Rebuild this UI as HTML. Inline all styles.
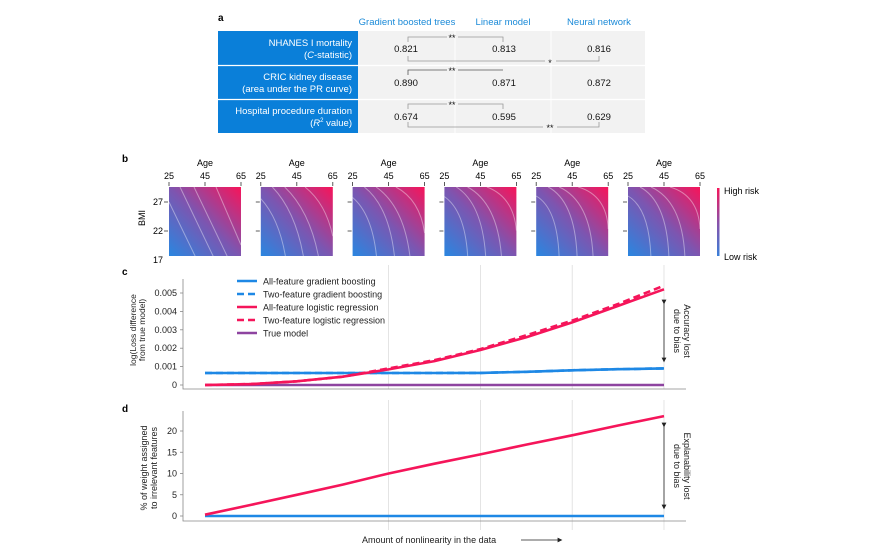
<!DOCTYPE html>
<html><head><meta charset="utf-8">
<style>
body{margin:0;background:#fff;width:875px;height:549px;overflow:hidden;font-family:"Liberation Sans",Arial,sans-serif;}
svg{position:absolute;left:0;top:0}
text{font-family:"Liberation Sans",Arial,sans-serif;}
</style></head>
<body>
<svg id="fig" width="875" height="549" viewBox="0 0 875 549">
<defs>
<linearGradient id="hm" x1="0" y1="1" x2="1" y2="0">
<stop offset="0" stop-color="#2a86e0"/><stop offset="0.5" stop-color="#7d55b0"/><stop offset="1" stop-color="#f7145a"/>
</linearGradient>
<linearGradient id="cb" x1="0" y1="1" x2="0" y2="0">
<stop offset="0" stop-color="#3a7fd8"/><stop offset="0.5" stop-color="#8a50a8"/><stop offset="1" stop-color="#f5155a"/>
</linearGradient>
<marker id="ah" markerWidth="6" markerHeight="6" refX="3" refY="3" orient="auto"><path d="M0,0 L6,3 L0,6 z" fill="#222"/></marker>
</defs>

<g>
<text x="218" y="21" font-size="10" font-weight="bold">a</text>
<text x="407" y="25" font-size="9.5" fill="#1a8ad8" text-anchor="middle">Gradient boosted trees</text>
<text x="503" y="25" font-size="9.5" fill="#1a8ad8" text-anchor="middle">Linear model</text>
<text x="599" y="25" font-size="9.5" fill="#1a8ad8" text-anchor="middle">Neural network</text>
<rect x="218" y="31" width="140" height="102" fill="#0a7fd9"/>
<rect x="358" y="31" width="287" height="102" fill="#f2f2f2"/>
<line x1="218" y1="65.5" x2="645" y2="65.5" stroke="#fff" stroke-width="1.2"/>
<line x1="218" y1="99.5" x2="645" y2="99.5" stroke="#fff" stroke-width="1.2"/>
<line x1="455" y1="31" x2="455" y2="133" stroke="#fff" stroke-width="1"/>
<line x1="551" y1="31" x2="551" y2="133" stroke="#fff" stroke-width="1"/>
<g font-size="9.5" fill="#fff" text-anchor="end">
<text x="352" y="46">NHANES I mortality</text>
<text x="352" y="58">(<tspan font-style="italic">C</tspan>-statistic)</text>
<text x="352" y="80">CRIC kidney disease</text>
<text x="352" y="92">(area under the PR curve)</text>
<text x="352" y="114">Hospital procedure duration</text>
<text x="352" y="126">(<tspan font-style="italic">R</tspan><tspan font-size="6" dy="-4">2</tspan><tspan dy="4"> value)</tspan></text>
</g>
<g font-size="9.5" fill="#111" text-anchor="middle">
<text x="406" y="52">0.821</text>
<text x="504" y="52">0.813</text>
<text x="599" y="52">0.816</text>
<text x="406" y="86">0.890</text>
<text x="504" y="86">0.871</text>
<text x="599" y="86">0.872</text>
<text x="406" y="120">0.674</text>
<text x="504" y="120">0.595</text>
<text x="599" y="120">0.629</text>
</g>
<g fill="none" stroke="#999" stroke-width="0.8">
<path d="M408,42 V37 H447 M458,37 H503 V42"/>
<path d="M408,56 V61 H545 M556,61 H599 V56"/>
<path d="M408,75 V70 H447 M458,70 H503" stroke="#555"/>
<path d="M408,109 V104 H447 M458,104 H503 V109"/>
<path d="M408,122 V127 H543 M557,127 H599 V122"/>
</g>
<g font-size="9" fill="#111" text-anchor="middle">
<text x="452" y="41">**</text><text x="550" y="66">*</text><text x="452" y="74">**</text><text x="452" y="108">**</text><text x="550" y="131">**</text>
</g>
</g>

<g id="panelB">
<text x="122" y="162" font-size="10" font-weight="bold">b</text>
<text x="145" y="218" font-size="9" text-anchor="middle" transform="rotate(-90 145 218)">BMI</text>
<g font-size="9" text-anchor="end">
<text x="163" y="205">27</text>
<text x="163" y="234">22</text>
<text x="163" y="263">17</text>
</g>
<rect x="717" y="188" width="2.5" height="68" fill="url(#cb)"/>
<text x="724" y="194" font-size="9">High risk</text>
<text x="724" y="260" font-size="9">Low risk</text>
</g>

<g id="panelC">
<text x="122" y="275" font-size="10" font-weight="bold">c</text>
<text transform="translate(136,330) rotate(-90)" font-size="8.5" text-anchor="middle" fill="#222">log(Loss difference</text>
<text transform="translate(145,330) rotate(-90)" font-size="8.5" text-anchor="middle" fill="#222">from true model)</text>
</g>
<g id="panelD">
<text x="122" y="412" font-size="10" font-weight="bold">d</text>
<text transform="translate(147,468) rotate(-90)" font-size="9" text-anchor="middle" fill="#222">% of weight assigned</text>
<text transform="translate(157,468) rotate(-90)" font-size="9" text-anchor="middle" fill="#222">to irrelevant features</text>
</g>
<text x="362" y="543" font-size="9" fill="#222">Amount of nonlinearity in the data</text>
<line x1="521" y1="540" x2="560" y2="540" stroke="#222" stroke-width="0.8" marker-end="url(#ah)"/>
</svg>
<script>
const nonlinearity = [0,0.1,0.2,0.3,0.4,0.5,0.6,0.7,0.8,0.9,1.0];
const lossAllGB   = [0.00065,0.00065,0.00065,0.00065,0.00065,0.00065,0.00066,0.00072,0.0008,0.00086,0.0009];
const lossTwoGB   = [0.00065,0.00065,0.00065,0.00065,0.00065,0.00065,0.00066,0.00072,0.0008,0.00086,0.0009];
const lossAllLR   = [0,0.00005,0.0002,0.00045,0.00085,0.0013,0.0019,0.0026,0.0034,0.0043,0.0052];
const lossTwoLR   = [0,0.00005,0.0002,0.00045,0.0009,0.00135,0.00195,0.0027,0.0035,0.0044,0.0054];
const lossTrue    = [0,0,0,0,0,0,0,0,0,0,0];
const cTicks      = [0,0.001,0.002,0.003,0.004,0.005];
const cTickLabels = ["0","0.001","0.002","0.003","0.004","0.005"];
const weightLR    = [0.3,2.6,5,7.4,10,12.3,14.5,16.8,19,21.3,23.5];
const weightGB    = [0,0,0,0,0,0,0,0,0,0,0];
const dTicks      = [0,5,10,15,20];
const gridAt      = [0.4,0.6,0.8,1.0];
const ageTicks    = [25,45,65];

const NS='http://www.w3.org/2000/svg';
const svg=document.getElementById('fig');
function mk(tag,attrs,parent){const e=document.createElementNS(NS,tag);for(const k in attrs)e.setAttribute(k,attrs[k]);(parent||svg).appendChild(e);return e;}
const xS=t=>205+t*459;
const cY=v=>385-v/0.001*18.4;
const dY=v=>516-v*4.25;
const gC=document.getElementById('panelC'), gD=document.getElementById('panelD');

gridAt.forEach(t=>{
  let l=mk('line',{x1:xS(t),x2:xS(t),y1:265,y2:389,stroke:'#ddd','stroke-width':0.8},gC);
  
  
  let l2=mk('line',{x1:xS(t),x2:xS(t),y1:400,y2:530,stroke:'#ddd','stroke-width':0.8},gD);
  
  
});
let ax=mk('path',{d:'M183,279 V389 H686',fill:'none',stroke:'#888','stroke-width':0.8},gC);


cTicks.forEach((v,i)=>{
  mk('line',{x1:180,x2:183,y1:cY(v),y2:cY(v),stroke:'#888','stroke-width':0.8},gC);
  let t=mk('text',{x:177,y:cY(v)+3,'font-size':9,'text-anchor':'end',fill:'#222'},gC);
  t.textContent=cTickLabels[i];
  
  
});
let axd=mk('path',{d:'M183,411 V521 H686',fill:'none',stroke:'#888','stroke-width':0.8},gD);


dTicks.forEach(v=>{
  mk('line',{x1:180,x2:183,y1:dY(v),y2:dY(v),stroke:'#888','stroke-width':0.8},gD);
  let t=mk('text',{x:177,y:dY(v)+3,'font-size':9,'text-anchor':'end',fill:'#222'},gD);
  t.textContent=String(v);
  
  
});
function line(vals,yf,color,dash,name,parent){
  const d=vals.map((v,i)=>(i?'L':'M')+xS(nonlinearity[i]).toFixed(1)+','+yf(v).toFixed(1)).join(' ');
  const p=mk('path',{d:d,fill:'none',stroke:color,'stroke-width':2.6,'stroke-dasharray':dash||'none'},parent);
  
  
}
line(lossTrue,cY,'#8e44a0','', 'c-line-true-model',gC);
line(lossTwoGB,cY,'#1e88e5','7 4','c-line-two-feature-gb',gC);
line(lossAllGB,cY,'#1e88e5','', 'c-line-all-feature-gb',gC);
line(lossAllLR,cY,'#f5155a','', 'c-line-all-feature-lr',gC);
line(lossTwoLR,cY,'#f5155a','7 4','c-line-two-feature-lr',gC);
line(weightGB,dY,'#1e88e5','', 'd-line-gb',gD);
line(weightLR,dY,'#f5155a','', 'd-line-lr',gD);

const legNames=['All-feature gradient boosting','Two-feature gradient boosting','All-feature logistic regression','Two-feature logistic regression','True model'];
const legCols=['#1e88e5','#1e88e5','#f5155a','#f5155a','#8e44a0'];
const legDash=['none','7 4','none','7 4','none'];
legNames.forEach((n,i)=>{
  const y=281+i*13;
  const g=mk('g',{},gC);
  
  
  mk('line',{x1:237,x2:257,y1:y,y2:y,stroke:legCols[i],'stroke-width':2.6,'stroke-dasharray':legDash[i]},g);
  const t=mk('text',{x:263,y:y+3.5,'font-size':9,fill:'#222'},g);
  t.textContent=n;
});
function biasArrow(y1,y2,l1,l2,parent,name){
  const a=mk('line',{x1:664,x2:664,y1:y1,y2:y2,stroke:'#222','stroke-width':0.8,'marker-start':'url(#ah)','marker-end':'url(#ah)'},parent);
  
  
  const cy=(y1+y2)/2;
  const t1=mk('text',{transform:`translate(684,${cy}) rotate(90)`,'font-size':9,'text-anchor':'middle',fill:'#222'},parent);
  t1.textContent=l1;
  
  
  const t2=mk('text',{transform:`translate(674,${cy}) rotate(90)`,'font-size':9,'text-anchor':'middle',fill:'#222'},parent);
  t2.textContent=l2;
}
biasArrow(302,360,'Accuracy lost','due to bias',gC,'accuracy-bias-arrow');
biasArrow(425,507,'Explanability lost','due to bias',gD,'explainability-bias-arrow');

// heatmaps: contours [startX, startY, endX, endY] in local coords
const straight=[[0,15,28,73],[11,0,46,73],[25,0,60,73],[47,0,72,58]];
const curved=[[0,9,23,73],[12,0,41,73],[23,0,57,73],[42,0,72,42]];
const curvF=[0,0.55,0.75,0.9,1,1];
const gB=document.getElementById('panelB');
for(let p=0;p<6;p++){
  const x0=169+p*91.8, y0=187, w=72, h=69;
  const g=mk('g',{},gB);
  
  
  const t=mk('text',{x:x0+w/2,y:166,'font-size':9,'text-anchor':'middle'},g);
  t.textContent='Age';
  ageTicks.forEach(a=>{
    const tx=x0+(a-25)/40*w;
    const tl=mk('text',{x:tx,y:179,'font-size':9,'text-anchor':'middle'},g);
    tl.textContent=String(a);
    mk('line',{x1:tx,x2:tx,y1:182,y2:186,stroke:'#333','stroke-width':0.8},g);
  });
  [202,231].forEach(yy=>mk('line',{x1:x0-5,x2:x0-1,y1:yy,y2:yy,stroke:'#333','stroke-width':0.8},g));
  mk('rect',{x:x0,y:y0,width:w,height:h,fill:'url(#hm)'},g);
  const f=curvF[p];
  for(let k=0;k<4;k++){
    const s=straight[k], c=curved[k];
    const sx=x0+s[0]+(c[0]-s[0])*f, sy=y0+s[1]+(c[1]-s[1])*f;
    const ex=x0+s[2]+(c[2]-s[2])*f, ey=y0+s[3]+(c[3]-s[3])*f;
    const mx=(sx+ex)/2, my=(sy+ey)/2;
    const kx=mx+(ex-mx)*f*0.9, ky=my+((sy+(ey-sy)*0.2)-my)*f;
    const endY=Math.min(ey,y0+h);
    mk('path',{d:`M${sx},${sy} Q${kx},${ky} ${ex},${ey}`,fill:'none',stroke:'rgba(255,255,255,0.4)','stroke-width':1},g);
  }
}
</script>
</body></html>
